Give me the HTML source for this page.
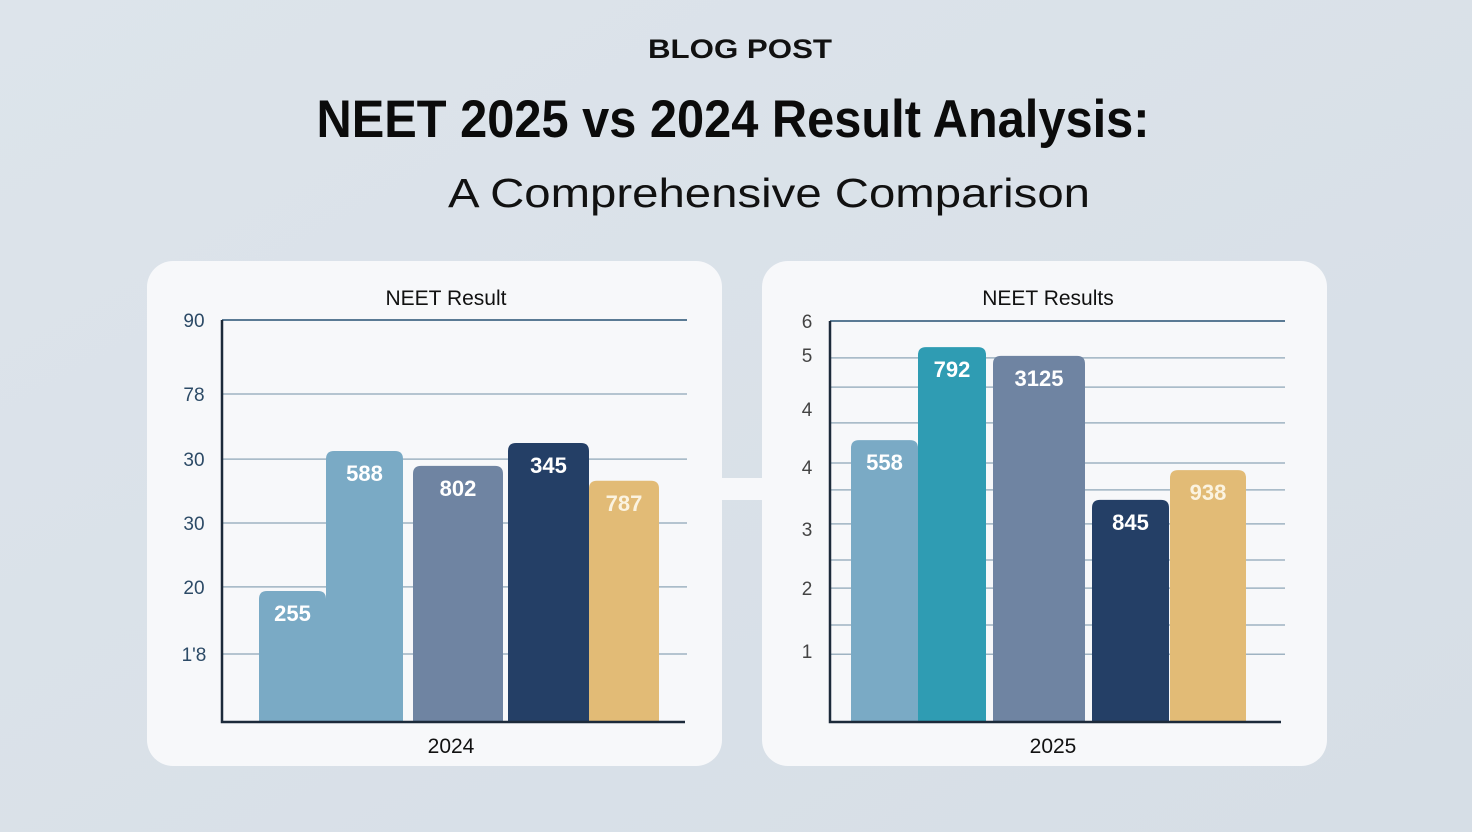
<!DOCTYPE html>
<html><head><meta charset="utf-8"><style>
html,body{margin:0;padding:0;background:#d9e1e8;}
svg{display:block;font-family:"Liberation Sans",Arial,sans-serif;}
</style></head><body>
<svg id="root" width="1472" height="832" viewBox="0 0 1472 832">
<defs><linearGradient id="bg" x1="0" y1="0" x2="1" y2="1"><stop offset="0" stop-color="#dde4eb"/><stop offset="1" stop-color="#d6dee6"/></linearGradient></defs>
<rect width="1472" height="832" fill="url(#bg)"/>
<text x="740" y="58" text-anchor="middle" font-size="27" font-weight="bold" fill="#111" textLength="184" lengthAdjust="spacingAndGlyphs">BLOG POST</text>
<text x="733" y="137" text-anchor="middle" font-size="53" font-weight="bold" fill="#0b0b0b" textLength="833" lengthAdjust="spacingAndGlyphs">NEET 2025 vs 2024 Result Analysis:</text>
<text x="769" y="207" text-anchor="middle" font-size="41" fill="#111" textLength="642" lengthAdjust="spacingAndGlyphs">A Comprehensive Comparison</text>
<rect x="715" y="478" width="55" height="22" fill="#f7f8fa"/>
<rect x="147" y="261" width="575" height="505" rx="26" fill="#f7f8fa"/>
<rect x="762" y="261" width="565" height="505" rx="26" fill="#f7f8fa"/>
<g id="chartL"></g>
<g id="chartR"></g>
</svg>
<script>
// 2024 chart data
const cats2024 = ["Cat A","Cat B","Cat C","Cat D","Cat E"];
const values2024 = [32.6, 67.4, 63.7, 69.4, 60.0];
const labels2024 = ["255","588","802","345","787"];
const ticks2024 = ["90","78","30","30","20","1'8"];
const tickVals2024 = [100, 81.6, 65.4, 49.5, 33.6, 16.9];
// 2025 chart data
const cats2025 = ["Cat A","Cat B","Cat C","Cat D","Cat E"];
const values2025 = [70.3, 93.5, 91.3, 55.4, 62.8];
const labels2025 = ["558","792","3125","845","938"];
const ticks2025 = ["6","5","4","4","3","2","1"];
const tickVals2025 = [100, 91.5, 78.1, 63.6, 48.1, 33.4, 17.7];
const grid2025 = [100, 90.8, 83.5, 74.6, 64.6, 57.9, 49.4, 40.4, 33.4, 24.2, 16.9];

const NS = "http://www.w3.org/2000/svg";
function mk(parent, tag, attrs, text){
  const e = document.createElementNS(NS, tag);
  for (const k in attrs) e.setAttribute(k, attrs[k]);
  if (text !== undefined) e.textContent = text;
  parent.appendChild(e);
  return e;
}
const colors = ["#7aaac5","#7aaac5","#6f84a2","#243f66","#e2bb76"];
const colors25 = ["#7aaac5","#2f9cb3","#6f84a2","#243f66","#e2bb76"];

function drawChart(g, cfg){
  const y = v => cfg.base - v / 100 * (cfg.base - cfg.top);
  const t = mk(g, "text", {x: cfg.titleX, y: 305, "text-anchor": "middle", "font-size": 21, fill: "#111"}, cfg.title);
  
  
  cfg.gridVals.forEach((v, i) => {
    const l = mk(g, "line", {x1: cfg.x0, x2: cfg.gx1, y1: y(v), y2: y(v), stroke: i === 0 ? "#5a7a94" : "#9fb3c2", "stroke-width": i === 0 ? 2 : 1.5});
    
    
  });
  cfg.tickVals.forEach((v, i) => {
    const tx = mk(g, "text", {x: cfg.tickX, y: y(v) + 7, "text-anchor": "middle", "font-size": 19, fill: cfg.tickColor}, cfg.ticks[i]);
    
    
  });
  cfg.values.forEach((v, i) => {
    const [bx, bw] = cfg.slots[i];
    const top = y(v);
    const p = mk(g, "path", {d: `M${bx},${cfg.base} V${top+8} Q${bx},${top} ${bx+8},${top} H${bx+bw-8} Q${bx+bw},${top} ${bx+bw},${top+8} V${cfg.base} Z`, fill: cfg.colors[i]});
    
    
    const lb = mk(g, "text", {x: bx + bw/2, y: top + 30, "text-anchor": "middle", "font-size": 22, "font-weight": "bold", fill: i === 4 ? "#fbf3e0" : "#ffffff"}, cfg.labels[i]);
    
    
  });
  const ax = mk(g, "path", {d: `M${cfg.x0},${cfg.top} V${cfg.base} H${cfg.x1}`, fill: "none", stroke: "#1c2a3a", "stroke-width": 2.5});
  
  
  const xl = mk(g, "text", {x: cfg.titleX + 5, y: 753, "text-anchor": "middle", "font-size": 21, fill: "#111"}, cfg.xlabel);
  
  
}

drawChart(document.getElementById("chartL"), {
  title: "NEET Result", xlabel: "2024", titleX: 446, top: 320, base: 722, x0: 222, x1: 685, gx1: 687,
  tickX: 194, tickColor: "#2c4a66", ticks: ticks2024, tickVals: tickVals2024, gridVals: tickVals2024,
  values: values2024, labels: labels2024, colors: colors,
  slots: [[259,67],[326,77],[413,90],[508,81],[589,70]]
});
drawChart(document.getElementById("chartR"), {
  title: "NEET Results", xlabel: "2025", titleX: 1048, top: 321, base: 722, x0: 830, x1: 1281, gx1: 1285,
  tickX: 807, tickColor: "#444", ticks: ticks2025, tickVals: tickVals2025, gridVals: grid2025,
  values: values2025, labels: labels2025, colors: colors25,
  slots: [[851,67],[918,68],[993,92],[1092,77],[1170,76]]
});
</script>
</body></html>
